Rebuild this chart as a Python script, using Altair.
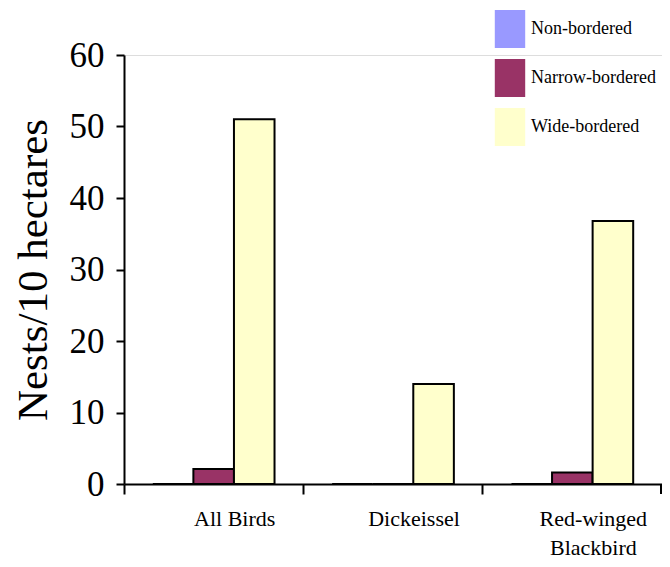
import altair as alt
import pandas as pd

categories = ["All Birds", "Dickeissel", "Red-winged Blackbird"]
series = ["Non-bordered", "Narrow-bordered", "Wide-bordered"]
non_bordered = [0, 0, 0]
narrow_bordered = [2.1, 0, 1.6]
wide_bordered = [51, 14, 36.8]
colors = ["#9999ff", "#993366", "#ffffcc"]
y_ticks = [0, 10, 20, 30, 40, 50, 60]

rows = []
for i, c in enumerate(categories):
    for s, vals in zip(series, [non_bordered, narrow_bordered, wide_bordered]):
        rows.append({"Species": c, "Border": s, "Nests": vals[i]})
df = pd.DataFrame(rows)

FONT = "Liberation Serif"
W, H = 538, 429

bars = alt.Chart(df).mark_bar(stroke="black", strokeWidth=2).encode(
    x=alt.X("Species:N", sort=categories,
            scale=alt.Scale(paddingInner=0, paddingOuter=0),
            axis=alt.Axis(title=None, labelAngle=0, bandPosition=0,
                          labelOffset=21, labelFont=FONT, labelFontSize=22,
                          labelColor="black", labelPadding=14, labelLineHeight=29,
                          labelBaseline="top",
                          labelExpr="datum.label == 'Red-winged Blackbird' ? ['Red-winged', 'Blackbird'] : datum.label",
                          tickSize=10, tickColor="black", tickWidth=2,
                          domainColor="black", domainWidth=2, grid=False)),
    xOffset=alt.XOffset("Border:N", sort=series,
                        scale=alt.Scale(paddingInner=0, paddingOuter=0.71)),
    y=alt.Y("Nests:Q",
            scale=alt.Scale(domain=[0, 60], nice=False),
            axis=alt.Axis(title="Nests/10 hectares", values=y_ticks,
                          titleFont=FONT, titleFontSize=43, titleFontWeight="normal",
                          titleColor="black", titlePadding=14,
                          labelFont=FONT, labelFontSize=35, labelColor="black",
                          labelPadding=12, tickSize=8, tickColor="black", tickWidth=2,
                          domainColor="black", domainWidth=2, grid=False)),
    color=alt.Color("Border:N", sort=series,
                    scale=alt.Scale(domain=series, range=colors),
                    legend=alt.Legend(title=None, orient="none",
                                      legendX=367, legendY=-45,
                                      symbolType="M-0.8,-1H0.8V1H-0.8Z",
                                      symbolSize=1444, symbolStrokeWidth=0,
                                      symbolOpacity=1,
                                      labelFont=FONT, labelFontSize=18,
                                      labelColor="black", labelOffset=2,
                                      rowPadding=11, padding=0)),
)

end_tick = alt.Chart(pd.DataFrame({"a": [0]})).mark_rule(color="black", strokeWidth=2).encode(
    x=alt.value(W - 1), y=alt.value(H), y2=alt.value(H + 10)
)

chart = alt.layer(bars, end_tick).properties(
    width=W, height=H,
    autosize=alt.AutoSizeParams(type="none"),
    padding={"left": 116, "top": 47, "right": 0, "bottom": 75},
).configure_view(stroke=None).configure(background="white")

chart.save("out.html", embed_options={"renderer": "svg", "actions": False})
